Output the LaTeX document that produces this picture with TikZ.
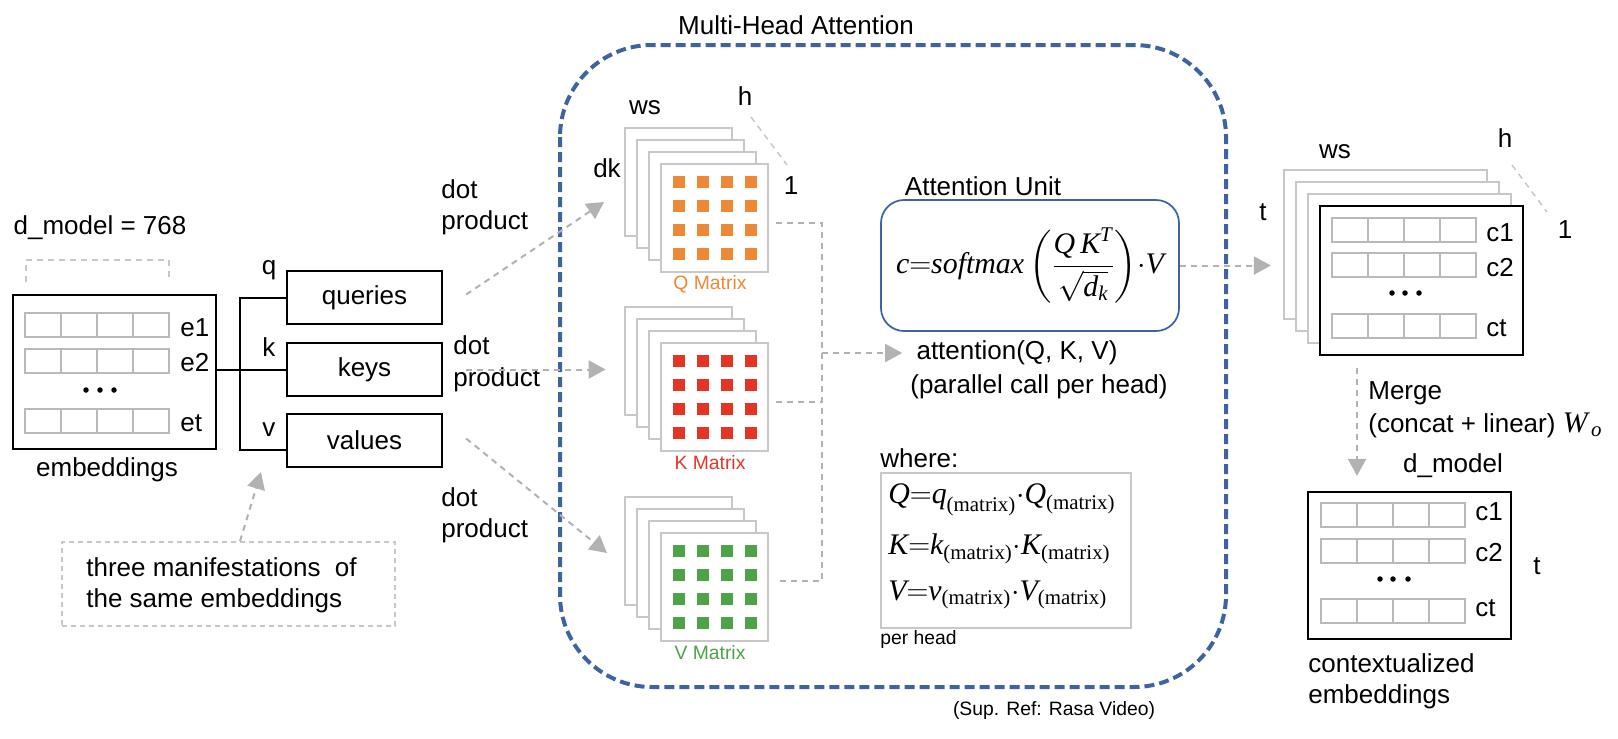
\documentclass[tikz,border=0pt]{standalone}
\usepackage{amsmath}
\usepackage{fontspec}
\setmainfont{Liberation Sans}
\newfontfamily\tmsfont{Liberation Serif}
\usetikzlibrary{arrows.meta, positioning, calc}

\definecolor{mhablue}{RGB}{62,99,160}
\definecolor{qorange}{RGB}{237,137,54}
\definecolor{kred}{RGB}{230,52,38}
\definecolor{vgreen}{RGB}{78,162,72}
\definecolor{panelgray}{RGB}{200,200,200}
\definecolor{cellgray}{RGB}{185,185,185}
\definecolor{arrowgray}{RGB}{178,178,178}

\newcommand{\mv}[1]{\text{\tmsfont\itshape #1}}
\newcommand{\mxs}{\text{\tmsfont (matrix)}}

\tikzset{
  blk/.style={draw=black, line width=0.45mm, fill=white},
  cellbox/.style={draw=cellgray, line width=0.4mm},
  panel/.style={draw=panelgray, line width=0.45mm, fill=white},
  gline/.style={draw=arrowgray, line width=0.4mm, dash pattern=on 1.2mm off 1mm},
  garrow/.style={gline, arrowgray, -{Triangle[length=3.4mm,width=3.6mm]}},
  small/.style={font=\fontsize{11}{13}\selectfont},
  mathbig/.style={font=\fontsize{17}{20}\selectfont},
}

\begin{document}
\begin{tikzpicture}[x=0.2mm, y=-0.2mm, inner sep=0pt, font=\fontsize{14.8}{17.8}\selectfont]
  \useasboundingbox (0,0) rectangle (1618,738);

  % Multi-head frame
  \draw[mhablue, line width=0.8mm, dash pattern=on 2mm off 1mm, rounded corners=18.4mm]
        (560,45) rectangle (1226,687);
  \node (mhatitle) at (796,25) {Multi-Head Attention};

  % Input embeddings
  \node (dmodel) at (100,228) {d\_model = 768};
  \draw[gline, draw=panelgray, line width=0.3mm] (26,282) -- (26,260) -- (169,260) -- (169,282);
  \node[blk, minimum width=40.6mm, minimum height=30.8mm] (emb) at (114.5,372) {};
  \foreach \y in {325,361,421}
    \foreach \i in {0,...,3}
      \draw[cellbox] ({25+36*\i},\y-12) rectangle ++(36,24);
  \foreach \x in {86,100,114}
    \fill (\x,390) circle (0.55mm);
  \node[anchor=west] (e1) at (180,328) {e1};
  \node[anchor=west] (e2) at (180,363) {e2};
  \node[anchor=west] (et) at (180,423) {et};
  \node (embl) at (107,470) {embeddings};

  % q, k, v
  \node[blk, minimum width=31mm, minimum height=10.6mm] (queries) at (364.5,297.5) {queries};
  \node[blk, minimum width=31mm, minimum height=10.6mm] (keys) at (364.5,369.5) {keys};
  \node[blk, minimum width=31mm, minimum height=10.6mm] (values) at (364.5,440.5) {values};
  \node (ql) at (269,270) {q};
  \node (kl) at (269,347) {k};
  \node (vl) at (269,430) {v};

  \coordinate (split) at (240,369.5);
  \draw[line width=0.4mm] (emb.east |- keys.west) -- (keys.west);
  \draw[line width=0.4mm] (queries.west) -- (split |- queries.west) -- (split |- emb.south)
        -- (values.west |- emb.south);

  % note
  \node[draw=panelgray, line width=0.3mm, dash pattern=on 1mm off 0.8mm,
        minimum width=66.6mm, minimum height=16.8mm] (note) at (228.5,584) {};
  \node[anchor=west, align=left] (notetxt) at (86,585) {three manifestations\ \ of\\the same embeddings};
  \coordinate (vtip) at (261,472);
  \draw[garrow] (note.north -| split) -- (vtip);

  % dot products
  \node[anchor=west, align=left] (dp1) at (441,207) {dot\\product};
  \node[anchor=west] (dp2a) at (453,345) {dot};
  \node[anchor=west] (dp2b) at (453,380) {product};
  \node[anchor=west, align=left] (dp3) at (441,515) {dot\\product};

  % Q, K, V matrices
  \foreach \m/\mcol/\ytop/\mname in {q/qorange/128/Q Matrix, k/kred/307/K Matrix, v/vgreen/497/V Matrix}{
    \foreach \i in {0,1,2}
      \node[panel, minimum size=21.5mm] (\m-p\i) at ({678.5+12*\i},{\ytop+54+12*\i}) {};
    \node[panel, minimum size=21.5mm] (\m-front) at (714.5,\ytop+90) {};
    \foreach \a in {-36,-12,12,36}
      \foreach \b in {-36,-12,12,36}
        \fill[\mcol] ({714.5+\a-6},{\ytop+90+\b-6}) rectangle ++(12,12);
    \node[small, text=\mcol] (\m-lbl) at (710,\ytop+156) {\mname};
  }
  \node (qws) at (645,108) {ws};
  \node (qdk) at (607,168) {dk};
  \node (qh) at (745,96) {h};
  \node (qone) at (791,186) {1};
  \draw[gline, draw=panelgray, line width=0.3mm] (751,117) -- (787,165);

  \coordinate (qin) at (604,202);
  \coordinate (vin) at (607,553);
  \draw[garrow] ($(queries.east)+(23,-3)$) -- (qin);
  \draw[garrow, shorten <=4.6mm, shorten >=3.6mm] (keys.east) -- (keys.east -| k-p0.west);
  \draw[garrow] ($(values.east)+(23,-2)$) -- (vin);

  % attention unit
  \node (unitl) at (983,186) {Attention Unit};
  \node[draw=mhablue, line width=0.35mm, rounded corners=4.6mm, minimum width=59.6mm,
        minimum height=26.2mm, font=\fontsize{17}{20}\selectfont] (unit) at (1030,265.5)
        {$\mv{c}{=}\mv{softmax}\left(\dfrac{\mv{Q}\,\mv{K}^{\mv{T}}}{\sqrt{\mv{d}_{\mv{k}}}}\right)\!{\cdot}\mv{V}$};
  \node (attq) at (1017,353) {attention(Q, K, V)};
  \node (attp) at (1039,387) {(parallel call per head)};

  \coordinate (bus) at (822,353);
  \draw[gline] ($(q-front.east)+(7,5)$) -- ($(q-front.east -| bus)+(0,5)$)
        -- ($(v-front.east -| bus)+(0,-6)$) -- ($(v-front.east)+(7,-6)$);
  \draw[gline] ($(k-front.east)+(7,5)$) -- ($(k-front.east -| bus)+(0,5)$);
  \draw[garrow, shorten >=2.8mm] (bus) -- (attq.west);

  % where box
  \node[anchor=west] (wherel) at (880,458) {where:};
  \node[draw=panelgray, line width=0.3mm, minimum width=50mm, minimum height=31mm] (where) at (1006,550.5) {};
  \node[mathbig, anchor=west] (eqq) at (888,500) {$\mv{Q}{=}\mv{q}_{\mxs}{\cdot}\mv{Q}_{\mxs}$};
  \node[mathbig, anchor=west] (eqk) at (888,549) {$\mv{K}{=}\mv{k}_{\mxs}{\cdot}\mv{K}_{\mxs}$};
  \node[mathbig, anchor=west] (eqv) at (888,595) {$\mv{V}{=}\mv{v}_{\mxs}{\cdot}\mv{V}_{\mxs}$};
  \node[small, anchor=west] (perhead) at (880,639) {per head};
  \node[small] (supref) at (1054,710) {(Sup. Ref: Rasa Video)};

  % output heads
  \foreach \i in {0,1,2}
    \node[panel, minimum width=40.6mm, minimum height=29.8mm] (out-p\i) at ({1385.5+12*\i},{244.5+12*\i}) {};
  \node[blk, minimum width=40.6mm, minimum height=29.8mm] (out-front) at (1421.5,280.5) {};
  \foreach \y in {230,265,326}
    \foreach \i in {0,...,3}
      \draw[cellbox] ({1332+36*\i},\y-12) rectangle ++(36,24);
  \foreach \x in {1392,1405,1419}
    \fill (\x,293) circle (0.55mm);
  \node[anchor=west] (oc1) at (1486,233) {c1};
  \node[anchor=west] (oc2) at (1486,268) {c2};
  \node[anchor=west] (oct) at (1486,328) {ct};
  \node (ows) at (1335,152) {ws};
  \node (ot) at (1263,212) {t};
  \node (oh) at (1505,138) {h};
  \node (oone) at (1565,230) {1};
  \draw[gline, draw=panelgray, line width=0.3mm] (1512,165) -- (1547,212);
  \draw[garrow, shorten >=2.4mm] (unit.east) -- (unit.east -| out-p0.west);

  % merge
  \node[blk, minimum width=40.6mm, minimum height=29.4mm] (ctx) at (1409.5,565.5) {};
  \coordinate (mergex) at (1357,420);
  \draw[garrow, shorten <=2.4mm, shorten >=3mm] (out-front.south -| mergex) -- (ctx.north -| mergex);
  \node[anchor=west] (mergel) at (1368,393) {Merge};
  \node[anchor=west] (concat) at (1368,425)
        {(concat + linear) {\fontsize{17}{20}\selectfont$\mv{W}_{\,\mv{o}}$}};
  \node (dmodel2) at (1453,466) {d\_model};
  \foreach \y in {515,551,611}
    \foreach \i in {0,...,3}
      \draw[cellbox] ({1321+36*\i},\y-12) rectangle ++(36,24);
  \foreach \x in {1380,1393,1408}
    \fill (\x,579) circle (0.55mm);
  \node[anchor=west] (cc1) at (1475,512) {c1};
  \node[anchor=west] (cc2) at (1475,553) {c2};
  \node[anchor=west] (cct) at (1475,608) {ct};
  \node (ctxt) at (1537,566) {t};
  \node[anchor=west, align=left] (ctxl) at (1308,681) {contextualized\\embeddings};
\end{tikzpicture}
\end{document}
